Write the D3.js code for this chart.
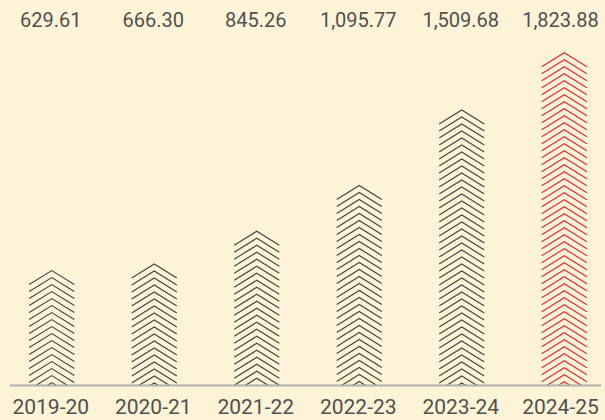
<!DOCTYPE html>
<html>
<head>
<meta charset="utf-8">
<script src="https://cdn.jsdelivr.net/npm/d3@7"></script>
<style>
  html, body { margin: 0; padding: 0; background: #fdf3d7; }
  svg { display: block; }
  text { font-family: Roboto, "Noto Sans", sans-serif; }
</style>
</head>
<body>
<svg id="chart" width="605" height="420"></svg>
<script>
// Fiscal years and their totals
const years = ["2019-20", "2020-21", "2021-22", "2022-23", "2023-24", "2024-25"];
const totals = [629.61, 666.30, 845.26, 1095.77, 1509.68, 1823.88];
const valueLabels = ["629.61", "666.30", "845.26", "1,095.77", "1,509.68", "1,823.88"];

const W = 605, H = 420;
const baseY = 385.5;
const svg = d3.select("#chart");

svg.append("rect").attr("width", W).attr("height", H).attr("fill", "#fdf3d7");

const x = d3.scaleBand().domain(years).range([0.5, 615.5]).paddingInner(0.56).paddingOuter(0.28);
const y = d3.scaleLinear().domain([0, 2000]).range([baseY, 20.5]);

const data = years.map((yr, i) => ({ yr, v: totals[i], label: valueLabels[i], last: i === years.length - 1 }));

const defs = svg.append("defs");
defs.append("clipPath").attr("id", "plotClip")
  .append("rect").attr("x", 0).attr("y", 0).attr("width", W).attr("height", baseY);

const spacing = 7;   // vertical gap between stacked chevrons
const rise = 14;     // drop from apex to arm ends

const bars = svg.append("g").attr("clip-path", "url(#plotClip)");
data.forEach(d => {
  const cx = x(d.yr) + x.bandwidth() / 2;
  const half = x.bandwidth() / 2;
  const top = y(d.v);
  const apexes = d3.range(top, baseY + 0.1, spacing);
  bars.append("g")
    .selectAll("path")
    .data(apexes)
    .join("path")
    .attr("d", a => `M${cx - half},${a + rise}L${cx},${a}L${cx + half},${a + rise}`)
    .attr("fill", "none")
    .attr("stroke", d.last ? "#e52a35" : "#444444")
    .attr("stroke-width", 1.15);
});

// baseline
svg.append("line")
  .attr("x1", 10).attr("x2", 601)
  .attr("y1", baseY).attr("y2", baseY)
  .attr("stroke", "#b0b0b0").attr("stroke-width", 2);

// value labels along the top
svg.append("g").selectAll("text")
  .data(data)
  .join("text")
  .attr("x", d => Math.min(x(d.yr) + x.bandwidth() / 2, 561.5) - 1)
  .attr("y", 26.5)
  .attr("text-anchor", "middle")
  .attr("font-size", 20)
  .attr("fill", "#505050")
  .text(d => d.label);

// category labels
svg.append("g").selectAll("text")
  .data(data)
  .join("text")
  .attr("x", d => Math.min(x(d.yr) + x.bandwidth() / 2, 561.5) - 1)
  .attr("y", 414)
  .attr("text-anchor", "middle")
  .attr("font-size", 21)
  .attr("fill", "#505050")
  .text(d => d.yr);
</script>
</body>
</html>
